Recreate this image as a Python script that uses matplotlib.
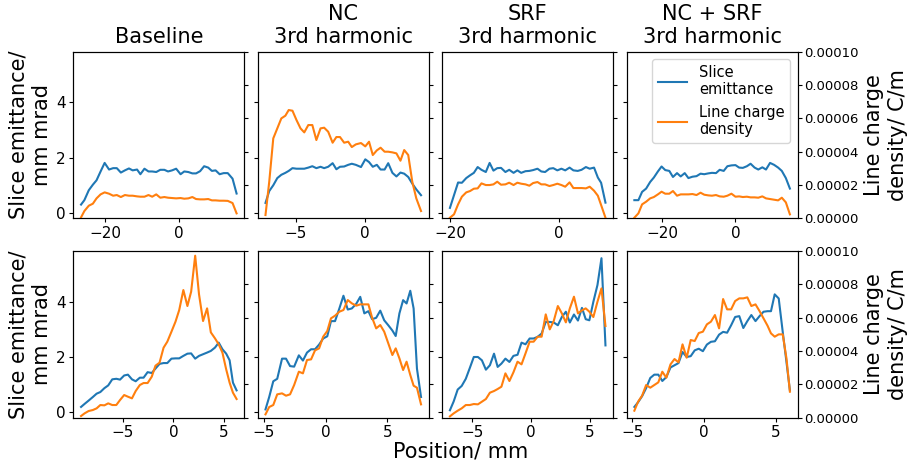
import numpy as np
import matplotlib
matplotlib.use("Agg")
import matplotlib.pyplot as plt
from matplotlib.ticker import FormatStrFormatter

# ─── DATOS ───────────────────────────────────────────────────
titles = ["Baseline", "NC\n3rd harmonic", "SRF\n3rd harmonic", "NC + SRF\n3rd harmonic"]

# fila superior
x_base_top = [-26.5, -25.6, -24.4, -23.3, -22.3, -21.2, -20.1, -18.9, -17.8, -16.8,
              -15.7, -14.6, -13.5, -12.5, -11.3, -10.4, -9.3, -8.2, -7.2, -6.1,
              -5.0, -3.9, -2.9, -1.8, -0.7, 0.5, 1.5, 2.6, 3.7, 4.7,
              5.8, 6.9, 8.0, 9.0, 10.0, 11.1, 12.2, 13.3, 14.6, 15.7]
emit_base_top = [0.30, 0.46, 0.82, 1.02, 1.18, 1.50, 1.81, 1.57, 1.62, 1.62,
                 1.46, 1.54, 1.61, 1.54, 1.57, 1.40, 1.60, 1.50, 1.50, 1.48,
                 1.56, 1.56, 1.50, 1.54, 1.60, 1.40, 1.50, 1.48, 1.43, 1.43,
                 1.51, 1.69, 1.64, 1.52, 1.54, 1.40, 1.44, 1.44, 1.24, 0.70]
lcd_base_top = [0.06, 0.44, 0.76, 0.88, 1.20, 1.44, 1.56, 1.48, 1.36, 1.40,
                1.28, 1.40, 1.36, 1.36, 1.32, 1.30, 1.30, 1.40, 1.30, 1.44,
                1.24, 1.28, 1.24, 1.22, 1.20, 1.22, 1.18, 1.20, 1.28, 1.16,
                1.14, 1.14, 1.16, 1.08, 1.08, 1.06, 1.06, 1.05, 0.92, 0.30]

x_nc_top = [-7.16, -6.89, -6.60, -6.31, -6.02, -5.73, -5.49, -5.22, -4.93, -4.64,
            -4.37, -4.08, -3.79, -3.50, -3.20, -2.94, -2.65, -2.33, -2.06, -1.80,
            -1.50, -1.21, -0.95, -0.66, -0.29, 0.02, 0.29, 0.56, 0.85, 1.12,
            1.41, 1.67, 1.97, 2.26, 2.55, 2.82, 3.11, 3.40, 3.69, 4.03]
emit_nc_top = [0.36, 0.79, 1.00, 1.26, 1.38, 1.45, 1.52, 1.62, 1.60, 1.60,
               1.60, 1.64, 1.69, 1.62, 1.67, 1.62, 1.67, 1.80, 1.58, 1.67,
               1.68, 1.74, 1.78, 1.74, 1.66, 1.94, 1.84, 1.67, 1.74, 1.57,
               1.57, 1.80, 1.45, 1.32, 1.46, 1.42, 1.30, 1.06, 0.85, 0.64]
lcd_nc_top = [0.20, 2.20, 4.80, 5.40, 6.00, 6.16, 6.50, 6.46, 5.90, 5.40,
              5.16, 5.60, 5.60, 4.70, 5.40, 5.44, 5.20, 4.54, 4.88, 4.88,
              4.54, 4.60, 4.28, 4.44, 4.52, 4.32, 4.60, 3.80, 4.08, 4.24,
              4.00, 4.00, 3.96, 3.90, 3.46, 4.10, 3.80, 2.20, 1.20, 0.44]

x_srf_top = [-20.0, -19.25, -18.5, -17.8, -17.0, -16.3, -15.6, -14.9, -14.2, -13.4,
             -12.7, -12.0, -11.3, -10.6, -9.8, -9.1, -8.3, -7.6, -6.9, -6.1,
             -5.4, -4.7, -3.9, -3.2, -2.5, -1.7, -1.0, -0.25, 0.5, 1.2,
             2.0, 2.7, 3.5, 4.2, 5.0, 5.7, 6.5, 7.2, 7.8, 8.6]
emit_srf_top = [0.18, 0.64, 1.10, 1.09, 1.26, 1.36, 1.45, 1.66, 1.56, 1.48,
                1.81, 1.53, 1.62, 1.63, 1.48, 1.56, 1.45, 1.54, 1.45, 1.51,
                1.52, 1.55, 1.60, 1.50, 1.48, 1.60, 1.62, 1.54, 1.60, 1.54,
                1.64, 1.54, 1.52, 1.56, 1.66, 1.60, 1.64, 1.28, 1.09, 0.37]
lcd_srf_top = [0.04, 0.24, 0.84, 1.30, 1.56, 1.64, 1.78, 1.80, 2.10, 2.00,
               2.00, 2.04, 2.20, 2.02, 2.04, 2.14, 2.00, 2.14, 2.08, 2.04,
               1.96, 2.12, 2.18, 2.04, 2.04, 1.94, 2.00, 2.08, 2.00, 1.90,
               2.16, 1.82, 1.82, 1.82, 1.80, 1.90, 1.66, 1.36, 0.80, 0.04]

x_both_top = [-27.5, -26.4, -25.4, -24.3, -23.2, -22.2, -21.1, -20.1, -19.1, -18.0,
              -17.0, -15.9, -14.9, -13.8, -12.8, -11.7, -10.6, -9.5, -8.5, -7.4,
              -6.4, -5.3, -4.3, -3.2, -2.2, -1.1, 0.0, 1.0, 2.0, 3.1,
              4.1, 5.2, 6.2, 7.3, 8.3, 9.4, 10.5, 11.6, 12.6, 13.7, 14.8]
emit_both_top = [0.46, 0.46, 0.76, 0.88, 1.12, 1.28, 1.50, 1.68, 1.55, 1.52,
                 1.30, 1.44, 1.32, 1.44, 1.26, 1.31, 1.33, 1.42, 1.40, 1.43,
                 1.45, 1.44, 1.56, 1.52, 1.69, 1.72, 1.73, 1.64, 1.63, 1.69,
                 1.78, 1.64, 1.57, 1.65, 1.57, 1.81, 1.74, 1.64, 1.52, 1.26, 0.88]
lcd_both_top = [0.04, 0.30, 0.84, 1.00, 1.20, 1.28, 1.44, 1.60, 1.48, 1.48,
                1.64, 1.36, 1.44, 1.44, 1.44, 1.46, 1.40, 1.54, 1.42, 1.38,
                1.36, 1.40, 1.32, 1.30, 1.36, 1.48, 1.30, 1.32, 1.28, 1.30,
                1.26, 1.26, 1.24, 1.32, 1.20, 1.16, 1.12, 1.08, 1.24, 0.96, 0.24]

# fila inferior
x_base_bot = [-9.15, -8.80, -8.40, -7.98, -7.61, -7.24, -6.84, -6.46, -6.06, -5.66,
              -5.29, -4.88, -4.51, -4.11, -3.74, -3.33, -2.96, -2.56, -2.15, -1.78,
              -1.38, -0.98, -0.61, -0.20, 0.20, 0.57, 0.98, 1.38, 1.75, 2.15,
              2.53, 2.93, 3.33, 3.70, 4.11, 4.48, 4.85, 5.22, 5.56, 5.89, 6.25]
emit_base_bot = [0.19, 0.30, 0.42, 0.55, 0.67, 0.73, 0.87, 0.97, 1.19, 1.21,
                 1.18, 1.33, 1.36, 1.19, 1.12, 1.25, 1.25, 1.45, 1.42, 1.58,
                 1.75, 1.78, 1.78, 1.94, 1.95, 1.95, 2.04, 2.12, 2.13, 1.94,
                 2.04, 2.10, 2.16, 2.22, 2.34, 2.52, 2.28, 2.12, 1.88, 1.07, 0.79]
lcd_base_bot = [0.10, 0.26, 0.40, 0.46, 0.56, 0.76, 0.74, 0.86, 0.76, 0.76,
                1.06, 1.36, 1.26, 1.16, 1.60, 1.96, 2.08, 2.08, 2.46, 3.12,
                3.30, 4.20, 4.56, 5.16, 5.76, 6.46, 7.66, 6.70, 7.56, 9.72,
                7.40, 5.80, 6.56, 5.12, 4.76, 4.40, 3.90, 2.90, 2.10, 1.50, 1.12]

x_nc_bot = [-4.86, -4.56, -4.23, -3.91, -3.52, -3.20, -2.87, -2.54, -2.16, -1.83,
            -1.50, -1.17, -0.85, -0.52, -0.19, 0.14, 0.44, 0.77, 1.12, 1.45,
            1.80, 2.13, 2.49, 2.81, 3.14, 3.47, 3.77, 4.10, 4.43, 4.75,
            5.08, 5.41, 5.68, 5.98, 6.28, 6.56, 6.86, 7.13, 7.40, 7.73]
emit_nc_bot = [0.10, 0.55, 1.12, 1.21, 1.94, 1.94, 1.67, 1.65, 2.06, 1.87,
               2.16, 2.28, 2.28, 2.45, 2.67, 2.75, 3.30, 3.30, 3.76, 4.22,
               3.72, 3.76, 3.93, 4.18, 3.58, 3.66, 3.37, 3.42, 3.68, 3.33,
               3.15, 2.96, 2.76, 3.58, 4.06, 3.94, 4.40, 3.76, 1.58, 0.55]
lcd_nc_bot = [0.20, 0.64, 0.76, 1.40, 1.46, 1.32, 1.40, 1.96, 2.76, 2.66,
              3.46, 3.50, 4.04, 4.16, 4.86, 5.20, 5.96, 6.12, 6.36, 6.46,
              7.06, 6.86, 6.72, 6.80, 6.80, 6.80, 6.00, 5.36, 5.56, 5.16,
              4.46, 3.76, 4.16, 3.56, 2.86, 3.36, 2.56, 1.92, 1.80, 0.80]

x_srf_bot = [-6.89, -6.57, -6.23, -5.89, -5.54, -5.20, -4.86, -4.51, -4.17, -3.83,
             -3.49, -3.14, -2.83, -2.51, -2.17, -1.83, -1.49, -1.14, -0.80, -0.46,
             -0.11, 0.23, 0.57, 0.91, 1.26, 1.60, 1.94, 2.29, 2.63, 2.97,
             3.31, 3.66, 4.00, 4.34, 4.66, 4.97, 5.31, 5.66, 6.00, 6.34]
emit_srf_bot = [0.07, 0.39, 0.82, 0.95, 1.21, 1.60, 2.00, 2.00, 1.88, 1.54,
                1.70, 2.12, 1.64, 1.76, 1.94, 1.82, 2.04, 2.08, 2.52, 2.46,
                2.67, 2.67, 2.73, 2.85, 3.27, 3.27, 3.25, 3.15, 3.45, 3.64,
                3.25, 3.54, 3.32, 3.78, 3.37, 3.33, 4.00, 4.61, 5.58, 2.42]
lcd_srf_bot = [0.08, 0.26, 0.42, 0.56, 0.76, 0.76, 0.82, 0.80, 0.96, 1.12,
               1.50, 1.60, 1.72, 1.86, 2.66, 2.20, 2.72, 3.36, 3.20, 3.86,
               4.56, 4.56, 4.86, 4.86, 6.20, 5.30, 5.80, 6.70, 6.26, 5.72,
               6.56, 7.26, 6.26, 6.44, 6.56, 6.36, 6.04, 6.96, 7.76, 5.50]

x_both_bot = [-4.87, -4.61, -4.33, -4.05, -3.76, -3.48, -3.20, -2.92, -2.64, -2.35,
              -2.07, -1.79, -1.51, -1.22, -0.94, -0.66, -0.38, -0.09, 0.19, 0.47,
              0.75, 1.04, 1.32, 1.60, 1.88, 2.16, 2.45, 2.73, 3.01, 3.29,
              3.58, 3.86, 4.14, 4.42, 4.66, 4.92, 5.20, 5.48, 5.74, 5.98]
emit_both_bot = [0.19, 0.36, 0.58, 0.87, 1.24, 1.36, 1.36, 1.13, 1.27, 1.62,
                 1.70, 1.78, 2.18, 2.00, 2.03, 2.24, 2.30, 2.21, 2.45, 2.55,
                 2.57, 2.81, 2.91, 2.88, 3.15, 3.45, 3.48, 3.05, 3.30, 3.52,
                 3.30, 3.48, 3.64, 3.66, 3.66, 4.27, 4.12, 2.91, 1.82, 0.79]
lcd_both_bot = [0.42, 0.96, 1.32, 1.96, 1.80, 1.96, 2.12, 2.76, 2.40, 3.20,
                3.52, 3.32, 4.40, 3.60, 4.66, 4.60, 5.08, 5.16, 5.60, 5.76,
                6.16, 5.36, 7.12, 6.50, 6.50, 7.00, 7.16, 7.16, 7.22, 6.70,
                6.80, 6.40, 5.96, 5.52, 5.06, 4.86, 5.00, 5.00, 3.56, 1.56]

X = [[x_base_top, x_nc_top, x_srf_top, x_both_top],
     [x_base_bot, x_nc_bot, x_srf_bot, x_both_bot]]
EMIT = [[emit_base_top, emit_nc_top, emit_srf_top, emit_both_top],
        [emit_base_bot, emit_nc_bot, emit_srf_bot, emit_both_bot]]
LCD = [[lcd_base_top, lcd_nc_top, lcd_srf_top, lcd_both_top],
       [lcd_base_bot, lcd_nc_bot, lcd_srf_bot, lcd_both_bot]]  # x 1e-5 C/m

# ─── FIGURA ───────────────────────────────────────────────────
fig, axes = plt.subplots(2, 4, figsize=(9.08, 4.68), dpi=100, sharey=True)
fig.subplots_adjust(left=0.0807, right=0.8785, top=0.8895, bottom=0.1075,
                    wspace=0.078, hspace=0.196)

for r in range(2):
    for c in range(4):
        ax = axes[r, c]
        ax2 = ax.twinx()
        l1, = ax.plot(X[r][c], EMIT[r][c], color="C0", label="Slice\nemittance")
        l2, = ax2.plot(X[r][c], np.array(LCD[r][c]) * 1e-5, color="C1",
                       label="Line charge\ndensity")
        ax.set_ylim(-0.2, 5.84)
        ax.set_yticks([0, 2, 4])
        ax2.set_ylim(0, 1e-4)
        ax2.yaxis.set_major_formatter(FormatStrFormatter("%.5f"))
        ax.tick_params(labelsize=11, length=2.8, pad=2.6)
        ax2.tick_params(labelsize=9.5, length=2.8, pad=2.0)
        if c != 3:
            ax2.set_yticklabels([])
        else:
            ax2.set_ylabel("Line charge\ndensity/ C/m", fontsize=15, labelpad=4)
        if c == 0:
            ax.set_ylabel("Slice emittance/\nmm mrad", fontsize=15, labelpad=3)
        if r == 0:
            ax.set_title(titles[c], fontsize=15)
        if r == 0 and c == 3:
            ax2.legend([l1, l2], [l1.get_label(), l2.get_label()],
                       loc="upper right", fontsize=10.5)

fig.text(0.507, 0.035, "Position/ mm", ha="center", va="center", fontsize=15)
plt.savefig("out.png", dpi=100)
